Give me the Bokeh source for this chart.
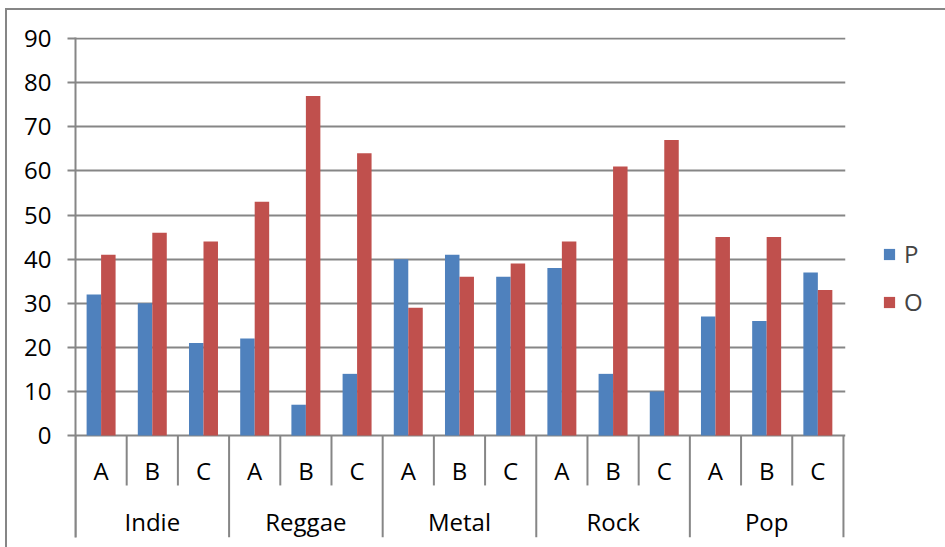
from bokeh.plotting import figure
from bokeh.models import Range1d, FixedTicker, Legend, LegendItem, ColumnDataSource
from bokeh.core.properties import value
from bokeh.embed import file_html
from bokeh.resources import INLINE

# Survey results per genre and sub-group
genres = ["Indie", "Reggae", "Metal", "Rock", "Pop"]
groups = ["A", "B", "C"]
p_values = [32, 30, 21, 22, 7, 14, 40, 41, 36, 38, 14, 10, 27, 26, 37]
o_values = [41, 46, 44, 53, 77, 64, 29, 36, 39, 44, 61, 67, 45, 45, 33]
y_ticks = [0, 10, 20, 30, 40, 50, 60, 70, 80, 90]

BLUE = "#4F81BD"
RED = "#C0504D"
GRID = "#868686"
FONT = "Open Sans"
FONT_SIZE = "24px"

n_cat = len(genres) * len(groups)
centers = [i + 0.5 for i in range(n_cat)]
bar_w = 0.283

p = figure(
    output_backend="svg",
    toolbar_location=None,
    x_range=Range1d(0, 15.04),
    y_range=Range1d(-23.1, 90.25),
    frame_width=770,
    frame_height=500,
    min_border_left=68,
    min_border_top=27,
    min_border_bottom=10,
    min_border_right=100,
    x_axis_location=None,
)
p.margin = (8, 0, 0, 5)
p.styles = {"border-left": f"2px solid {GRID}", "border-top": f"2px solid {GRID}"}
p.outline_line_color = None
p.background_fill_color = "white"
p.border_fill_color = "white"

# y axis
p.yaxis.ticker = FixedTicker(ticks=y_ticks)
p.yaxis.axis_line_color = GRID
p.yaxis.axis_line_width = 2
p.yaxis.major_tick_line_color = GRID
p.yaxis.major_tick_line_width = 2
p.yaxis.major_tick_out = 8
p.yaxis.major_tick_in = 0
p.yaxis.minor_tick_line_color = None
p.yaxis.major_label_text_font = FONT
p.yaxis.major_label_text_font_size = FONT_SIZE
p.yaxis.major_label_text_color = "black"
p.yaxis.major_label_standoff = 16
p.xgrid.visible = False
p.ygrid.grid_line_color = GRID
p.ygrid.grid_line_width = 2

src = ColumnDataSource(dict(
    xp=[c - bar_w / 2 for c in centers],
    xo=[c + bar_w / 2 for c in centers],
    p=p_values,
    o=o_values,
))
rp = p.vbar(x="xp", top="p", bottom=0, width=bar_w, source=src, fill_color=BLUE, line_color=None)
ro = p.vbar(x="xo", top="o", bottom=0, width=bar_w, source=src, fill_color=RED, line_color=None)

# two-level category axis: dividers and labels
inner_y = -11.3
outer_y = -23.1
inner_x = [i for i in range(1, n_cat) if i % len(groups) != 0]
outer_x = [i * len(groups) for i in range(len(genres) + 1)]
p.segment(x0=inner_x, x1=inner_x, y0=[0] * len(inner_x), y1=[inner_y] * len(inner_x),
          line_color=GRID, line_width=2)
p.segment(x0=outer_x, x1=outer_x, y0=[0] * len(outer_x), y1=[outer_y] * len(outer_x),
          line_color=GRID, line_width=2)

sub_labels = [groups[i % len(groups)] for i in range(n_cat)]
p.text(x=centers, y=[-7.9] * n_cat, text=sub_labels, text_font=value(FONT),
       text_font_size=FONT_SIZE, text_align="center", text_baseline="middle", text_color="black")
genre_x = [i * len(groups) + len(groups) / 2 for i in range(len(genres))]
p.text(x=genre_x, y=[-19.4] * len(genres), text=genres, text_font=value(FONT),
       text_font_size=FONT_SIZE, text_align="center", text_baseline="middle", text_color="black")

legend = Legend(
    items=[LegendItem(label="P", renderers=[rp]), LegendItem(label="O", renderers=[ro])],
    location=(37, 219),
    orientation="vertical",
    glyph_width=14,
    glyph_height=14,
    label_height=14,
    spacing=15,
    padding=0,
    margin=0,
    label_standoff=8,
    label_text_font=FONT,
    label_text_font_size=FONT_SIZE,
    border_line_color=None,
    background_fill_alpha=0,
)
p.add_layout(legend, "right")

open("out.html", "w").write(file_html(p, INLINE))
